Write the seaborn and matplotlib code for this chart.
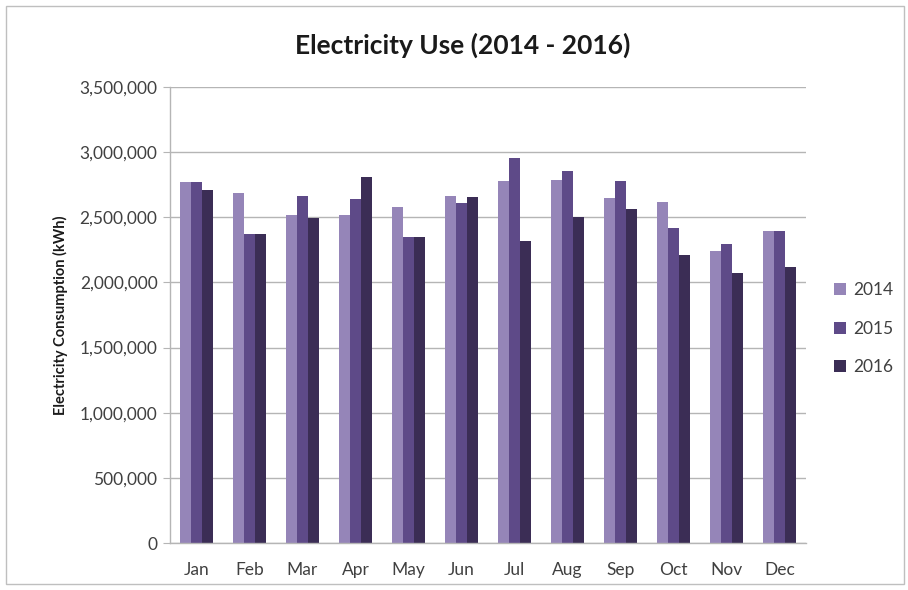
import numpy as np
import pandas as pd
import matplotlib
matplotlib.use('Agg')
import matplotlib.pyplot as plt
import seaborn as sns
from matplotlib.patches import Rectangle
from matplotlib.ticker import FuncFormatter

# Monthly electricity consumption (kWh)
months = ['Jan', 'Feb', 'Mar', 'Apr', 'May', 'Jun',
          'Jul', 'Aug', 'Sep', 'Oct', 'Nov', 'Dec']
use_2014 = [2773000, 2684000, 2517000, 2519000, 2576000, 2665000,
            2781000, 2786000, 2645000, 2615000, 2241000, 2397000]
use_2015 = [2773000, 2371000, 2665000, 2642000, 2346000, 2607000,
            2955000, 2855000, 2781000, 2420000, 2292000, 2397000]
use_2016 = [2709000, 2371000, 2492000, 2809000, 2346000, 2658000,
            2315000, 2500000, 2561000, 2210000, 2070000, 2116000]
years = ['2014', '2015', '2016']
colors = ['#9585b8', '#5e4a88', '#3b2d55']

df = pd.DataFrame({'month': months * 3,
                   'year': np.repeat(years, len(months)),
                   'kwh': use_2014 + use_2015 + use_2016})

sns.set_style('white')
plt.rcParams['font.family'] = ['Lato', 'DejaVu Sans']

fig = plt.figure(figsize=(9.08, 5.90), dpi=100)
ax = fig.add_axes([170 / 908, 1 - 543 / 590, (806 - 170) / 908, (543 - 87) / 590])

sns.barplot(data=df, x='month', y='kwh', hue='year', palette=colors,
            width=0.64, gap=0, saturation=1, linewidth=0, ax=ax)

ax.set_ylim(0, 3500000)
ax.set_yticks(np.arange(0, 3500001, 500000))
ax.yaxis.set_major_formatter(FuncFormatter(lambda v, p: f'{int(v):,}'))
ax.grid(axis='y', color='#b5b5b5', linewidth=1)
ax.set_axisbelow(True)
ax.set_xlim(-0.5, 11.5)

for s in ['top', 'right']:
    ax.spines[s].set_visible(False)
for s in ['left', 'bottom']:
    ax.spines[s].set_color('#b5b5b5')
    ax.spines[s].set_linewidth(1)

ax.tick_params(axis='y', which='major', left=True, length=5, color='#b5b5b5',
               labelsize=12.5, labelcolor='#404040', pad=4)
ax.tick_params(axis='x', bottom=False, labelsize=12.5, labelcolor='#404040', pad=10)

ax.set_xlabel('')
ax.set_ylabel('Electricity Consumption (kWh)', fontsize=10.5, fontweight='bold',
              color='#1a1a1a', labelpad=8)

fig.text(463 / 908, 1 - 45 / 590, 'Electricity Use (2014 - 2016)', ha='center', va='center',
         fontsize=19, fontweight='bold', color='#1a1a1a')

leg = ax.legend(loc='center left', bbox_to_anchor=(1.02, 0.47), frameon=False,
                fontsize=12.5, handlelength=0.7, handleheight=0.7, labelspacing=1.3,
                handletextpad=0.4)
for t in leg.get_texts():
    t.set_color('#404040')

fig.patches.append(Rectangle((6 / 908, 6 / 590), 898 / 908, 578 / 590, transform=fig.transFigure,
                             fill=False, edgecolor='#bfbfbf', linewidth=1))

fig.savefig('out.png', dpi=100)
